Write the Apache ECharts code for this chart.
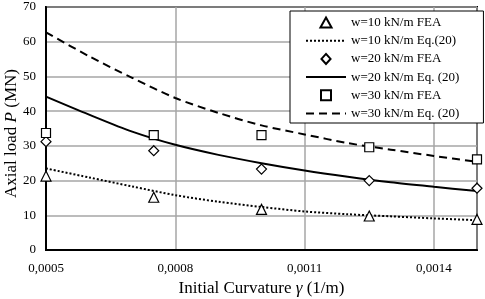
<!DOCTYPE html>
<html>
<head>
<meta charset="utf-8">
<script src="https://cdn.jsdelivr.net/npm/echarts@6/dist/echarts.min.js"></script>
<style>
  html, body { margin: 0; padding: 0; background: #fff; }
  #chart { width: 485px; height: 299px; }
</style>
</head>
<body>
<div id="chart"></div>
<script>
// FEA points (curvature, load MN)
var feaX = [0.0005, 0.00075, 0.001, 0.00125, 0.0015]
var feaW10 = [21.3, 15.2, 11.7, 9.8, 8.8]
var feaW20 = [31.2, 28.6, 23.3, 20.0, 17.8]
var feaW30 = [33.7, 33.1, 33.1, 29.6, 26.1]
// Eq. (20) curves
var eqX = [0.0005, 0.0006, 0.0007, 0.0008, 0.0009, 0.001, 0.0011, 0.0012, 0.0013, 0.0014, 0.0015]
var eqW10 = [23.5, 20.9, 18.3, 15.8, 13.9, 12.4, 11.1, 10.3, 9.7, 9.1, 8.6]
var eqW20 = [44.2, 39.0, 34.1, 30.3, 27.4, 25.0, 22.9, 21.1, 19.5, 18.2, 17.0]
var eqW30 = [62.7, 55.8, 49.6, 43.8, 39.5, 35.9, 33.3, 30.8, 28.9, 27.1, 25.4]
var names = ['w=10 kN/m FEA', 'w=10 kN/m Eq.(20)', 'w=20 kN/m FEA', 'w=20 kN/m Eq. (20)', 'w=30 kN/m FEA', 'w=30 kN/m Eq. (20)']

function pairs(xs, ys) {
  return xs.map(function(x, i) { return [x, ys[i]] })
}

var font = 'Liberation Serif'
var myChart = echarts.init(document.getElementById('chart'))

function feaSeries(name, sym, size, ys) {
  return {
    name: name,
    type: 'scatter',
    symbol: sym,
    symbolSize: size,
    z: 5,
    itemStyle: { color: '#fff', borderColor: '#000', borderWidth: 1.2, opacity: 1 },
    data: pairs(feaX, ys)
  }
}
function eqSeries(name, type, ys) {
  return {
    name: name,
    type: 'line',
    smooth: 0.3,
    symbol: 'none',
    z: 3,
    lineStyle: { color: '#000', width: 2, type: type },
    itemStyle: { color: '#000' },
    data: pairs(eqX, ys)
  }
}

// legend marker shapes as paths so they keep their aspect
var legendIcons = [
  'path://M5,0 L10,9 L0,9 Z',
  null,
  'path://M5,0 L10,5.5 L5,11 L0,5.5 Z',
  null,
  'path://M0,0 L10,0 L10,10 L0,10 Z',
  null
]
var legendData = names.map(function(n, i) {
  if (!legendIcons[i]) return { name: n, itemStyle: { opacity: 0 } }
  return { name: n, icon: legendIcons[i] }
})

var option = {
  animation: false,
  backgroundColor: '#fff',
  textStyle: { fontFamily: font },
  grid: {
    left: 46,
    right: 8,
    top: 7,
    bottom: 49,
    outerBoundsMode: 'none',
    containLabel: false,
    show: true,
    borderColor: '#000',
    borderWidth: 2
  },
  legend: {
    orient: 'vertical',
    left: 290,
    top: 11,
    padding: [5, 24, 3, 15],
    itemGap: 5.2,
    itemWidth: 40,
    itemHeight: 10,
    symbolKeepAspect: true,
    backgroundColor: '#fff',
    borderColor: '#000',
    borderWidth: 1,
    textStyle: { fontFamily: font, fontSize: 13, color: '#000' },
    data: legendData
  },
  xAxis: {
    type: 'value',
    min: 0.0005,
    max: 0.0015,
    interval: 0.0003,
    name: 'Initial Curvature {i|γ} (1/m)',
    nameLocation: 'middle',
    nameGap: 30,
    nameMoveOverlap: false,
    nameTextStyle: {
      fontFamily: font, fontSize: 17, color: '#000',
      rich: { i: { fontFamily: font, fontSize: 17, fontStyle: 'italic', color: '#000' } }
    },
    axisLine: { lineStyle: { color: '#000', width: 2 } },
    axisTick: { show: false },
    axisLabel: {
      fontFamily: font, fontSize: 13, color: '#000', margin: 12,
      showMaxLabel: false,
      formatter: function(v) {
        if (v > 0.00145) return ''
        return v.toFixed(4).replace('.', ',')
      }
    },
    splitLine: { show: true, lineStyle: { color: '#a6a6a6', width: 1.5 } }
  },
  yAxis: {
    type: 'value',
    min: 0,
    max: 70,
    interval: 10,
    name: 'Axial load {i|P} (MN)',
    nameLocation: 'middle',
    nameGap: 26,
    nameMoveOverlap: false,
    nameTextStyle: {
      fontFamily: font, fontSize: 17, color: '#000',
      padding: [0, 10, 0, 0],
      rich: { i: { fontFamily: font, fontSize: 17, fontStyle: 'italic', color: '#000' } }
    },
    axisLine: { show: true, lineStyle: { color: '#000', width: 2 } },
    axisTick: { show: false },
    axisLabel: { fontFamily: font, fontSize: 13, color: '#000', margin: 10 },
    splitLine: { show: true, lineStyle: { color: '#a6a6a6', width: 1.5 } }
  },
  series: [
    feaSeries(names[0], 'triangle', 10, feaW10),
    eqSeries(names[1], 'dotted', eqW10),
    feaSeries(names[2], 'diamond', 10, feaW20),
    eqSeries(names[3], 'solid', eqW20),
    feaSeries(names[4], 'rect', 9, feaW30),
    eqSeries(names[5], [8, 5], eqW30)
  ]
}
myChart.setOption(option)
</script>
</body>
</html>
